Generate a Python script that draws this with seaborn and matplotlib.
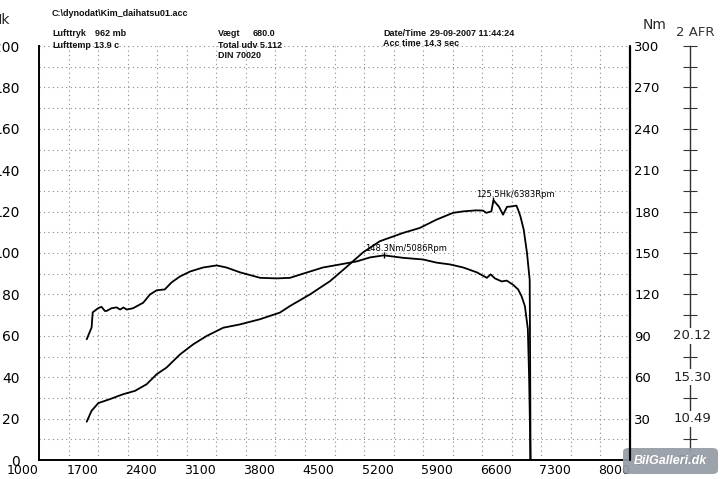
import numpy as np
import matplotlib
matplotlib.use("Agg")
import matplotlib.pyplot as plt
import matplotlib.patches as patches
from matplotlib.lines import Line2D
import seaborn as sns

# torque curve (Nm)
rpm_t = [1565, 1623, 1636, 1700, 1740, 1780, 1800, 1860, 1920, 1960, 2000, 2040, 2115,
         2235, 2315, 2395, 2490, 2570, 2670, 2790, 2945, 3105, 3220, 3380, 3620, 3815,
         3973, 4127, 4363, 4565, 4762, 4920, 5086, 5312, 5550, 5710, 5870, 6025, 6185,
         6305, 6350, 6400, 6480, 6540, 6615, 6675, 6715, 6755, 6790, 6805, 6815, 6820]
torque = [87.5, 96, 107, 110, 111, 108, 108, 110, 110.6, 109, 110.5, 109, 110,
          114, 120, 123, 123.6, 128.7, 133, 136.6, 139.5, 141, 139.5, 136, 132, 131.6,
          132, 135, 139.5, 141.7, 143.9, 146.8, 148.3, 146.5, 145.3, 143, 141.7, 139.5, 136,
          132, 134.5, 131.6, 129.4, 130, 127, 123.6, 118.8, 111.5, 95, 60, 25, 0]

# power curve (Hk)
rpm_p = [1565, 1623, 1703, 1840, 1998, 2137, 2275, 2393, 2512, 2670, 2827, 2985, 3182,
         3380, 3617, 3853, 3973, 4210, 4447, 4644, 4841, 5038, 5312, 5510, 5707, 5904,
         6022, 6180, 6259, 6298, 6358, 6383, 6449, 6496, 6543, 6596, 6655, 6674, 6702,
         6741, 6780, 6812, 6818, 6822]
power = [18.5, 23.8, 27.5, 29.4, 31.8, 33.4, 36.6, 41.4, 44.7, 51, 55.9, 59.9, 63.9,
         65.5, 68, 71.2, 74.4, 80, 86.4, 93.3, 100.4, 105.7, 109.7, 112.1, 116.1, 119.4,
         120.1, 120.6, 120.5, 119.4, 120.1, 125.5, 122.3, 118.5, 122.3, 122.5, 122.9, 121, 117.7,
         111.3, 100, 87, 40, 0]

peak_nm = (5086, 148.3)
peak_hk = (6383, 125.5)
afr_labels = ["5.68", "10.49", "15.30", "20.12"]

sns.set_theme(style="white")
plt.rcParams["font.family"] = ["DejaVu Sans"]

W, H = 728, 479
fig = plt.figure(figsize=(W / 100, H / 100), dpi=100)


def px(x, y):
    return x / W, 1 - y / H


ax = fig.add_axes([39 / W, 19 / H, 591 / W, 414 / H])
ax.set_xlim(1000, 8000)
ax.set_ylim(0, 200)
ax.set_xticks(np.arange(1000, 8001, 700))
ax.set_xticks(np.arange(1000, 8001, 350), minor=True)
ax.set_yticks(np.arange(0, 201, 20))
ax.set_yticks(np.arange(0, 201, 10), minor=True)
ax.grid(which="both", color="#8a8a8a", linestyle=(0, (1, 3)), linewidth=0.8)
ax.set_axisbelow(True)

for s in ["left", "bottom"]:
    ax.spines[s].set_color("black")
    ax.spines[s].set_linewidth(1.4)
ax.spines["top"].set_visible(False)
ax.spines["right"].set_visible(False)
ax.tick_params(axis="y", which="both", length=0, pad=14, labelsize=10, colors="black")
ax.tick_params(axis="x", which="major", length=5, width=1, direction="out", pad=-2,
               labelsize=9, colors="black")
ax.tick_params(axis="x", which="minor", length=0)
for lab in ax.get_xticklabels():
    lab.set_ha("right")

sns.lineplot(x=rpm_p, y=power, ax=ax, color="black", linewidth=1.3, sort=False,
             estimator=None)
ax.set_xlabel("")
ax.set_ylabel("")
ax.text(peak_hk[0] - 210, peak_hk[1] + 0.5, "125.5Hk/6383Rpm", fontsize=6,
        va="bottom", ha="left", color="black")
ax.plot([peak_hk[0]], [peak_hk[1]], marker="|", color="black", markersize=5)

ax2 = ax.twinx()
ax2.set_ylim(0, 300)
ax2.set_yticks(np.arange(0, 301, 30))
ax2.tick_params(axis="y", length=0, pad=3, labelsize=9.5, colors="black")
for s in ax2.spines.values():
    s.set_visible(False)
sns.lineplot(x=rpm_t, y=torque, ax=ax2, color="black", linewidth=1.3, sort=False,
             estimator=None)
ax2.set_ylabel("")
ax2.text(peak_nm[0] - 225, peak_nm[1] + 1.5, "148.3Nm/5086Rpm", fontsize=6,
         va="bottom", ha="left", color="black")
ax2.plot([peak_nm[0]], [peak_nm[1]], marker="|", color="black", markersize=5)

# AFR scale on the far right
afr_pos = (690 - 39) / 591
ax3 = ax.twinx()
ax3.set_ylim(0, 300)
for s in ["left", "top", "bottom"]:
    ax3.spines[s].set_visible(False)
ax3.spines["right"].set_position(("axes", afr_pos))
ax3.spines["right"].set_linestyle((0, (1, 1)))
ax3.spines["right"].set_linewidth(1.0)
ax3.spines["right"].set_color("#333333")
ax3.set_yticks(np.arange(15, 301, 15))
ax3.set_yticklabels([])
ax3.tick_params(axis="y", direction="inout", length=10, width=0.8, colors="#333333")
for i, lab in enumerate(afr_labels):
    ax3.text(afr_pos + 0.004, i * 30, lab, transform=ax3.get_yaxis_transform(),
             ha="center", va="center", fontsize=9.5, color="#222222",
             bbox=dict(facecolor="white", edgecolor="none", pad=1))

# right-hand Nm axis line, drawn on the figure so nothing hides it
fig.add_artist(Line2D([630 / W, 630 / W], [1 - 46 / H, 1 - 460 / H],
                      transform=fig.transFigure, color="black", linewidth=1.6,
                      zorder=20))

# header texts
hdr = dict(fontsize=6.5, fontweight="bold", family="Liberation Sans", va="center",
           color="#111111")
fig.text(*px(52, 14), "C:\\dynodat\\Kim_daihatsu01.acc", **hdr)
fig.text(*px(52, 34), "Lufttryk", **hdr)
fig.text(*px(95, 34), "962 mb", **hdr)
fig.text(*px(52, 45), "Lufttemp", **hdr)
fig.text(*px(94, 45), "13.9 c", **hdr)
fig.text(*px(218, 34), "Vægt", **hdr)
fig.text(*px(253, 34), "680.0", **hdr)
fig.text(*px(218, 45), "Total udv 5.112", **hdr)
fig.text(*px(218, 56), "DIN 70020", **hdr)
fig.text(*px(383, 34), "Date/Time", **hdr)
fig.text(*px(430, 34), "29-09-2007 11:44:24", **hdr)
fig.text(*px(383, 44), "Acc time", **hdr)
fig.text(*px(424, 44), "14.3 sec", **hdr)

fig.text(*px(10, 20), "Hk", fontsize=10, ha="right", va="center")
fig.text(*px(655, 25), "Nm", fontsize=10, ha="center", va="center")
fig.text(*px(695, 32), "2 AFR", fontsize=9.5, ha="center", va="center", color="#333333")

# watermark
fig.patches.append(patches.FancyBboxPatch(px(623, 474), 95 / W, 26 / H,
                                          boxstyle="round,pad=0,rounding_size=0.008",
                                          transform=fig.transFigure, facecolor="#959ba3",
                                          edgecolor="none", alpha=0.92, zorder=10))
fig.text(*px(670, 461), "BilGalleri.dk", fontsize=9, fontweight="bold", style="italic",
         family="Liberation Sans", color="white", ha="center", va="center", zorder=11)

fig.savefig("out.png", dpi=100)
